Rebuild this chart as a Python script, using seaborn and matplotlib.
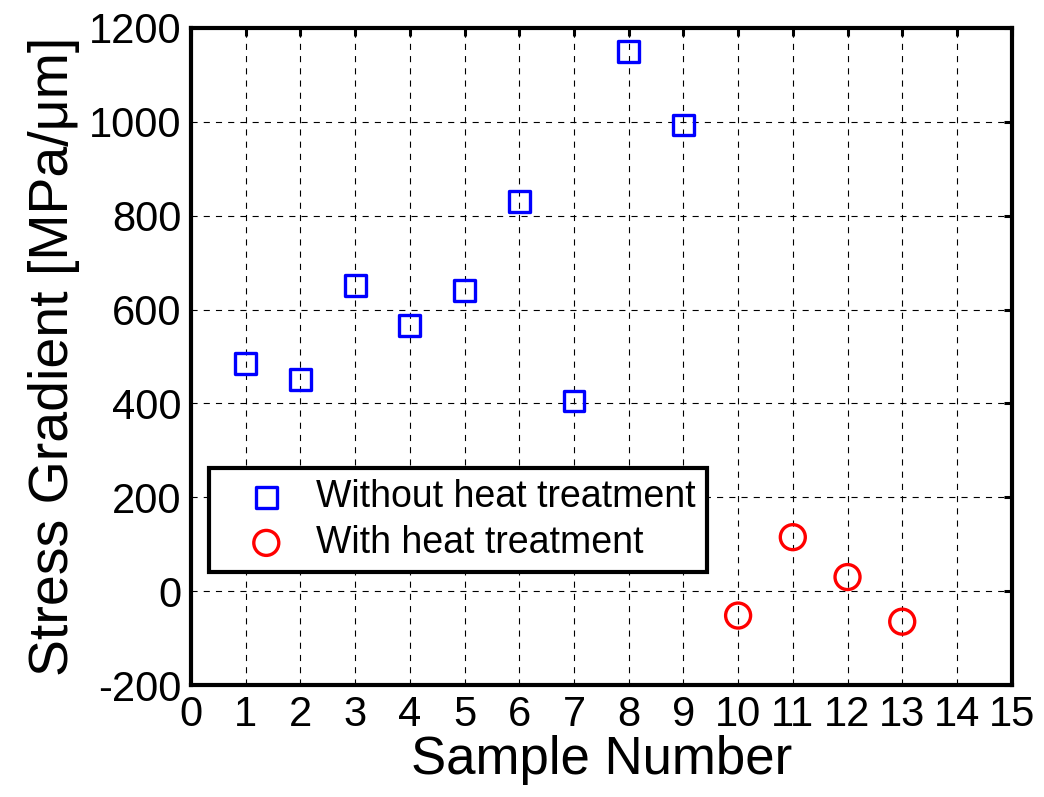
import matplotlib
matplotlib.use("Agg")
import matplotlib.pyplot as plt
import seaborn as sns
import pandas as pd

# Data
samples_without = [1, 2, 3, 4, 5, 6, 7, 8, 9]
gradient_without = [485, 451, 652, 566, 640, 830, 405, 1150, 993]
samples_with = [10, 11, 12, 13]
gradient_with = [-52, 115, 30, -65]
label_without = "Without heat treatment"
label_with = "With heat treatment"
x_ticks = list(range(0, 16))
y_ticks = list(range(-200, 1201, 200))

sns.set_style("white")
plt.rcParams["font.family"] = ["Liberation Sans", "DejaVu Sans"]
plt.rcParams["text.color"] = "black"
plt.rcParams["axes.labelcolor"] = "black"

fig = plt.figure(figsize=(10.44, 7.97), dpi=100)
ax = fig.add_axes([0.183, 0.1405, 0.786, 0.8245])

df_wo = pd.DataFrame({"x": samples_without, "y": gradient_without})
df_w = pd.DataFrame({"x": samples_with, "y": gradient_with})

sns.scatterplot(data=df_wo, x="x", y="y", marker="s", s=15**2, color="#0000ff",
                facecolor="none", edgecolor="#0000ff", linewidth=2.4,
                label=label_without, ax=ax, zorder=3)
sns.scatterplot(data=df_w, x="x", y="y", marker="o", s=18**2, color="#ff0000",
                facecolor="none", edgecolor="#ff0000", linewidth=2.4,
                label=label_with, ax=ax, zorder=3)

ax.set_xlim(0, 15)
ax.set_ylim(-200, 1200)
ax.set_xticks(x_ticks)
ax.set_yticks(y_ticks)
ax.set_xticklabels([str(v) for v in x_ticks])
ax.set_yticklabels([str(v) for v in y_ticks])

ax.grid(True, color="black", linestyle=(0, (5.5, 5.5)), linewidth=0.8)
for s in ax.spines.values():
    s.set_linewidth(3)
    s.set_color("black")
ax.tick_params(direction="in", length=6, width=2.2, top=True, right=True,
               labelsize=30, pad=7, colors="black")
ax.tick_params(axis="x", pad=7)

ax.set_xlabel("Sample Number", fontsize=38, labelpad=0, color="black")
ax.set_ylabel("Stress Gradient [MPa/\u03bcm]", fontsize=40, labelpad=6, color="black")

leg = ax.legend(loc="lower left", bbox_to_anchor=(0.022, 0.172), borderaxespad=0,
                fontsize=27, frameon=True, fancybox=False, framealpha=1,
                edgecolor="black", handletextpad=0.1, borderpad=0.3,
                labelspacing=0.25, handlelength=2.45, markerscale=1.0)
leg.get_frame().set_linewidth(3)
for t in leg.get_texts():
    t.set_color("black")

fig.savefig("out.png", dpi=100)
